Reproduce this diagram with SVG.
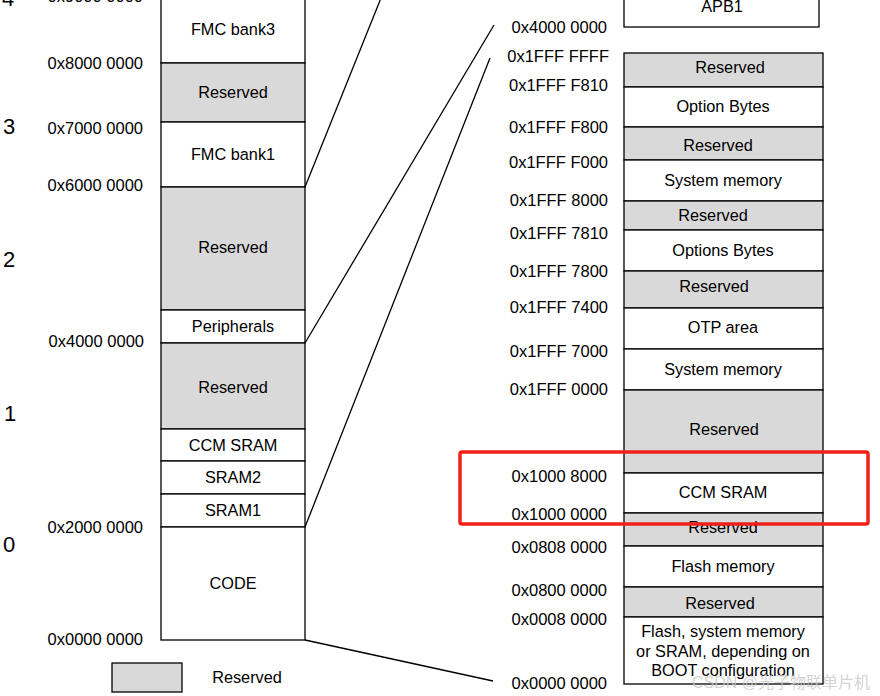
<svg xmlns="http://www.w3.org/2000/svg" width="880" height="696" viewBox="0 0 880 696">
<style>
text{font-family:"Liberation Sans",Arial,sans-serif;fill:#000}
.w{fill:#fff;stroke:#000;stroke-width:1.3}
.g{fill:#d9d9d9;stroke:#000;stroke-width:1.3}
.t{font-size:16.3px;text-anchor:middle}
.a{font-size:16.5px;text-anchor:end}
.n{font-size:22px}
.c{stroke:#000;stroke-width:1.3;fill:none}
</style>
<rect width="880" height="696" fill="#fff"/>
<g id="left-col">
<g id="l-fmc3"><rect class="w" x="161" y="-5" width="144" height="68"/><text class="t" x="233" y="35">FMC bank3</text></g>
<g id="l-res1"><rect class="g" x="161" y="63" width="144" height="59"/><text class="t" x="233" y="98">Reserved</text></g>
<g id="l-fmc1"><rect class="w" x="161" y="122" width="144" height="65"/><text class="t" x="233" y="160">FMC bank1</text></g>
<g id="l-res2"><rect class="g" x="161" y="187" width="144" height="123"/><text class="t" x="233" y="253">Reserved</text></g>
<g id="l-periph"><rect class="w" x="161" y="310" width="144" height="33"/><text class="t" x="233" y="332">Peripherals</text></g>
<g id="l-res3"><rect class="g" x="161" y="343" width="144" height="86"/><text class="t" x="233" y="393">Reserved</text></g>
<g id="l-ccm"><rect class="w" x="161" y="429" width="144" height="32"/><text class="t" x="233" y="451">CCM SRAM</text></g>
<g id="l-sram2"><rect class="w" x="161" y="461" width="144" height="33"/><text class="t" x="233" y="483">SRAM2</text></g>
<g id="l-sram1"><rect class="w" x="161" y="494" width="144" height="33"/><text class="t" x="233" y="516">SRAM1</text></g>
<g id="l-code"><rect class="w" x="161" y="527" width="144" height="113"/><text class="t" x="233" y="589">CODE</text></g>
</g>
<g id="left-labels">
<text class="a" x="143" y="2">0x9000 0000</text>
<text class="a" x="143" y="69">0x8000 0000</text>
<text class="a" x="143" y="134">0x7000 0000</text>
<text class="a" x="143" y="191">0x6000 0000</text>
<text class="a" x="144" y="347">0x4000 0000</text>
<text class="a" x="143" y="533">0x2000 0000</text>
<text class="a" x="143" y="645">0x0000 0000</text>
<text class="n" x="2" y="6">4</text>
<text class="n" x="3" y="134">3</text>
<text class="n" x="3" y="267">2</text>
<text class="n" x="4" y="421">1</text>
<text class="n" x="3" y="552">0</text>
</g>
<g id="legend">
<rect class="g" x="112" y="663" width="70" height="29"/>
<text class="t" x="247" y="683">Reserved</text>
</g>
<g id="connectors">
<line class="c" x1="305" y1="187" x2="381" y2="-2"/>
<line class="c" x1="305" y1="343" x2="494" y2="25"/>
<line class="c" x1="305" y1="527" x2="490" y2="58"/>
<line class="c" x1="305" y1="640" x2="493" y2="681"/>
</g>
<g id="right-col">
<g id="r-apb1"><rect class="w" x="624" y="-5" width="195" height="32"/><text class="t" x="722" y="12">APB1</text></g>
<g id="r-res1"><rect class="g" x="624" y="53" width="199" height="34"/><text class="t" x="730" y="73">Reserved</text></g>
<g id="r-opt"><rect class="w" x="624" y="87" width="199" height="40"/><text class="t" x="723" y="112">Option Bytes</text></g>
<g id="r-res2"><rect class="g" x="624" y="127" width="199" height="33"/><text class="t" x="718" y="151">Reserved</text></g>
<g id="r-sys1"><rect class="w" x="624" y="160" width="199" height="41"/><text class="t" x="723" y="186">System memory</text></g>
<g id="r-res3"><rect class="g" x="624" y="201" width="199" height="29"/><text class="t" x="713" y="221">Reserved</text></g>
<g id="r-opts"><rect class="w" x="624" y="230" width="199" height="41"/><text class="t" x="723" y="256">Options Bytes</text></g>
<g id="r-res4"><rect class="g" x="624" y="271" width="199" height="37"/><text class="t" x="714" y="292">Reserved</text></g>
<g id="r-otp"><rect class="w" x="624" y="308" width="199" height="41"/><text class="t" x="723" y="333">OTP area</text></g>
<g id="r-sys2"><rect class="w" x="624" y="349" width="199" height="41"/><text class="t" x="723" y="375">System memory</text></g>
<g id="r-res5"><rect class="g" x="624" y="390" width="199" height="83"/><text class="t" x="724" y="435">Reserved</text></g>
<g id="r-ccm"><rect class="w" x="624" y="473" width="199" height="40"/><text class="t" x="723" y="498">CCM SRAM</text></g>
<g id="r-res6"><rect class="g" x="624" y="513" width="199" height="33"/><text class="t" x="723" y="533">Reserved</text></g>
<g id="r-flash"><rect class="w" x="624" y="546" width="199" height="41"/><text class="t" x="723" y="572">Flash memory</text></g>
<g id="r-res7"><rect class="g" x="624" y="587" width="199" height="30"/><text class="t" x="720" y="609">Reserved</text></g>
<g id="r-boot"><rect class="w" x="624" y="617" width="199" height="67"/><text class="t" x="723" y="637">Flash, system memory</text><text class="t" x="723" y="657">or SRAM, depending on</text><text class="t" x="723" y="676">BOOT configuration</text></g>
</g>
<g id="right-labels">
<text class="a" x="607" y="33">0x4000 0000</text>
<text class="a" x="609" y="62">0x1FFF FFFF</text>
<text class="a" x="608" y="91">0x1FFF F810</text>
<text class="a" x="608" y="133">0x1FFF F800</text>
<text class="a" x="608" y="168">0x1FFF F000</text>
<text class="a" x="608" y="206">0x1FFF 8000</text>
<text class="a" x="608" y="239">0x1FFF 7810</text>
<text class="a" x="608" y="277">0x1FFF 7800</text>
<text class="a" x="608" y="313">0x1FFF 7400</text>
<text class="a" x="608" y="357">0x1FFF 7000</text>
<text class="a" x="608" y="395">0x1FFF 0000</text>
<text class="a" x="607" y="482">0x1000 8000</text>
<text class="a" x="607" y="520">0x1000 0000</text>
<text class="a" x="607" y="553">0x0808 0000</text>
<text class="a" x="607" y="596">0x0800 0000</text>
<text class="a" x="607" y="625">0x0008 0000</text>
<text class="a" x="607" y="689">0x0000 0000</text>
</g>
<g id="highlight">
<rect x="460" y="452" width="408" height="72" rx="2" fill="none" stroke="#f0201a" stroke-width="3.5"/>
</g>
<text x="870" y="688" style="font-family:'Liberation Sans','Noto Sans CJK SC',sans-serif;font-size:16px;text-anchor:end;fill:#c8c8c8;fill-opacity:0.8">CSDN @光子物联单片机</text>
</svg>
